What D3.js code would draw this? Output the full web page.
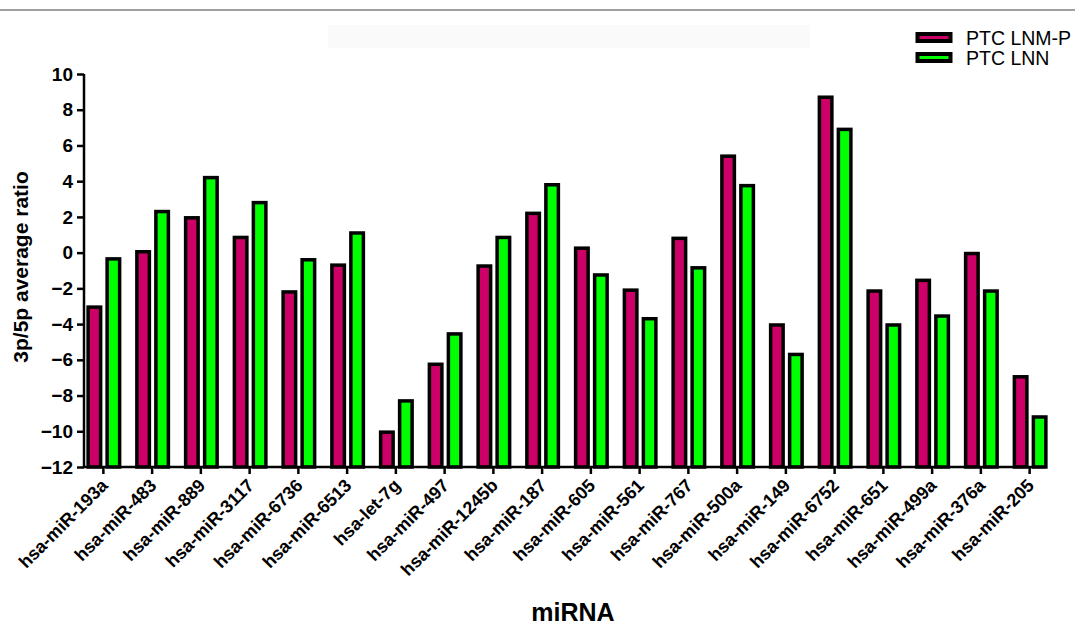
<!DOCTYPE html>
<html>
<head>
<meta charset="utf-8">
<script src="https://cdn.jsdelivr.net/npm/d3@7"></script>
<style>
  html, body { margin: 0; padding: 0; background: #fff; }
  svg { display: block; font-family: "Liberation Sans", Arial, sans-serif; }
</style>
</head>
<body>
<svg id="chart" width="1075" height="628"></svg>
<script>
const categories = ["hsa-miR-193a","hsa-miR-483","hsa-miR-889","hsa-miR-3117","hsa-miR-6736","hsa-miR-6513","hsa-let-7g","hsa-miR-497","hsa-miR-1245b","hsa-miR-187","hsa-miR-605","hsa-miR-561","hsa-miR-767","hsa-miR-500a","hsa-miR-149","hsa-miR-6752","hsa-miR-651","hsa-miR-499a","hsa-miR-376a","hsa-miR-205"];
const seriesNames = ["PTC LNM-P", "PTC LNN"];
const lnmP = [-3.05, 0.05, 1.95, 0.85, -2.2, -0.7, -10.05, -6.25, -0.75, 2.2, 0.25, -2.1, 0.8, 5.4, -4.05, 8.7, -2.15, -1.55, -0.05, -6.95];
const lnn  = [-0.35, 2.3, 4.2, 2.8, -0.4, 1.1, -8.3, -4.55, 0.85, 3.8, -1.25, -3.7, -0.85, 3.75, -5.7, 6.9, -4.05, -3.55, -2.15, -9.2];
const yTicks = [10, 8, 6, 4, 2, 0, -2, -4, -6, -8, -10, -12];
const colors = ["#cc0066", "#00ff00"];

const svg = d3.select("#chart");

// top separator line & faint box
svg.append("line").attr("x1", 0).attr("x2", 1075).attr("y1", 10).attr("y2", 10)
  .attr("stroke", "#a0a0a0").attr("stroke-width", 2);
svg.append("rect").attr("x", 328).attr("y", 25).attr("width", 482).attr("height", 23)
  .attr("fill", "#fbfafa");

const y = d3.scaleLinear().domain([-12, 10]).range([467, 74]);
const x = d3.scaleBand().domain(categories).range([79, 1054]).padding(0);
const x1 = d3.scaleBand().domain(seriesNames).range([0, 35]).paddingInner(3 / 19).paddingOuter(0);
const groupOffset = (x.bandwidth() - 35) / 2 + 0.5;
const sw = 3.5;

const data = categories.map((c, i) => ({ cat: c, vals: [lnmP[i], lnn[i]] }));

const groups = svg.append("g").selectAll("g").data(data).join("g")
  .attr("transform", d => `translate(${x(d.cat) + groupOffset},0)`);

groups.selectAll("rect").data(d => d.vals.map((v, k) => ({ v, k })))
  .join("rect")
  .attr("x", d => x1(seriesNames[d.k]) + sw / 2)
  .attr("width", x1.bandwidth() - sw)
  .attr("y", d => y(d.v))
  .attr("height", d => y(-12) - y(d.v))
  .attr("fill", d => colors[d.k])
  .attr("stroke", "#000")
  .attr("stroke-width", sw);

// Y axis
const yAxis = svg.append("g").attr("transform", "translate(84,0)")
  .call(d3.axisLeft(y).tickValues(yTicks).tickSize(7).tickPadding(4).tickFormat(d3.format("d")));
yAxis.select(".domain").attr("stroke", "#000").attr("stroke-width", 2.5).attr("d", `M0,${y(10)}V${y(-12)}`);
yAxis.selectAll(".tick line").attr("stroke", "#000").attr("stroke-width", 2.5);
yAxis.selectAll(".tick text").attr("font-size", 19).attr("font-weight", "bold").attr("fill", "#000")
  .attr("font-family", "Liberation Sans, Arial, sans-serif");

// X axis
const xAxis = svg.append("g").attr("transform", `translate(0,${y(-12)})`)
  .call(d3.axisBottom(x).tickSize(7).tickSizeOuter(0));
xAxis.select(".domain").attr("stroke", "#000").attr("stroke-width", 2.5).attr("d", "M84,0H1045");
xAxis.selectAll(".tick line").attr("stroke", "#000").attr("stroke-width", 2.5);
xAxis.selectAll(".tick text")
  .attr("font-size", 18).attr("font-weight", "bold").attr("fill", "#000")
  .attr("font-family", "Liberation Sans, Arial, sans-serif")
  .attr("text-anchor", "end")
  .attr("transform", "translate(-4,10) rotate(-45)")
  .attr("x", 0).attr("y", 0).attr("dy", "0.75em");

// Axis titles
svg.append("text").attr("transform", "translate(28,267) rotate(-90)")
  .attr("text-anchor", "middle").attr("font-size", 21).attr("font-weight", "bold")
  .text("3p/5p average ratio");
svg.append("text").attr("x", 573).attr("y", 621)
  .attr("text-anchor", "middle").attr("font-size", 25).attr("font-weight", "bold")
  .text("miRNA");

// Legend
const legend = svg.append("g");
seriesNames.forEach((s, i) => {
  const ly = 32 + i * 20;
  legend.append("rect").attr("x", 917.5).attr("y", ly + 2).attr("width", 33).attr("height", 7)
    .attr("fill", colors[i]).attr("stroke", "#000").attr("stroke-width", 4);
  legend.append("text").attr("x", 966).attr("y", ly + 13).attr("font-size", 19.5)
    .attr("fill", "#000").text(s);
});
</script>
</body>
</html>
